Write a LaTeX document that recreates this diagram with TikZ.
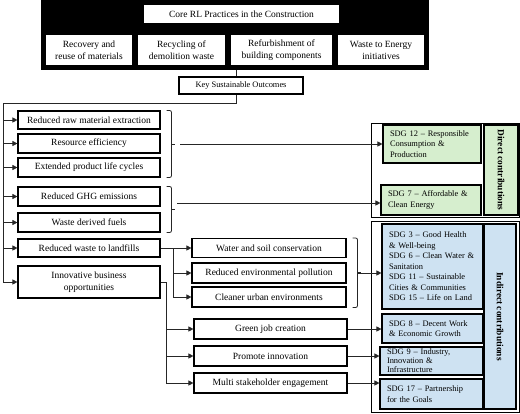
\documentclass[tikz,border=0pt]{standalone}
\usepackage{fontspec}
\setmainfont{Liberation Serif}
\usepackage{tikz}
\usetikzlibrary{arrows.meta,calc}
\definecolor{sdggreen}{HTML}{D6EECE}
\definecolor{sdgblue}{HTML}{CEE2F2}
\tikzset{
    every node/.style={rectangle, draw, line width=1.1pt, inner sep=1pt, align=center, font=\fontsize{9.5}{12}\selectfont}
}
\tikzset{
    sdgbox/.style={align=left, inner xsep=7pt, font=\fontsize{8.4}{10.5}\selectfont},
    sidebox/.style={rotate=-90, font=\fontsize{9.4}{11}\selectfont\bfseries},
    frame/.style={line width=0.9pt, fill=white},
    link/.style={line width=0.7pt, black!85},
    arr/.style={line width=0.7pt, black!85, -{Triangle[length=5pt,width=5pt]}},
    bracket/.style={line width=0.8pt, black!85, rounded corners=2pt}
}

\begin{document}
\begin{tikzpicture}[x=1pt, y=-1pt]
    \useasboundingbox (0,0) rectangle (520,413);

    % core practices
    \node (rlframe) [fill=black, minimum width=386pt, minimum height=69pt] at (235,34.5) {};
    \node (core) [fill=white, minimum width=197pt, minimum height=20pt] at (241.5,14) {Core RL Practices in the Construction};
    \node (p1) [fill=white, minimum width=88pt, minimum height=32pt] at (89,50) {Recovery and\\reuse of materials};
    \node (p2) [fill=white, minimum width=89pt, minimum height=32pt] at (181.5,50) {Recycling of\\demolition waste};
    \node (p3) [fill=white, minimum width=103pt, minimum height=32pt] at (281.5,50) {Refurbishment of\\building components};
    \node (p4) [fill=white, minimum width=88pt, minimum height=32pt] at (381,50) {Waste to Energy\\initiatives};

    \node (key) [minimum width=124pt, minimum height=17pt, font=\fontsize{8.4}{10}\selectfont] at (241,85.5) {Key Sustainable Outcomes};

    % outcomes
    \node (r1) [minimum width=142pt, minimum height=18pt] at (89,120) {Reduced raw material extraction};
    \node (r2) [minimum width=142pt, minimum height=19pt] at (89,143.5) {Resource efficiency};
    \node (r3) [minimum width=142pt, minimum height=19pt] at (89,167.5) {Extended product life cycles};
    \node (r4) [minimum width=142pt, minimum height=19pt] at (89,196.5) {Reduced GHG emissions};
    \node (r5) [minimum width=142pt, minimum height=19pt] at (89,222.5) {Waste derived fuels};
    \node (r6) [minimum width=142pt, minimum height=18pt] at (89,248) {Reduced waste to landfills};
    \node (innov) [minimum width=142pt, minimum height=32pt] at (89,282) {Innovative business\\opportunities};

    \node (m1) [minimum width=154pt, minimum height=19pt] at (269,248) {Water and soil conservation};
    \node (m2) [minimum width=154pt, minimum height=20pt] at (269,273) {Reduced environmental pollution};
    \node (m3) [minimum width=154pt, minimum height=20pt] at (269,297) {Cleaner urban environments};
    \node (g1) [minimum width=153pt, minimum height=20pt] at (270.5,329) {Green job creation};
    \node (g2) [minimum width=153pt, minimum height=20pt] at (270.5,356) {Promote innovation};
    \node (g3) [minimum width=153pt, minimum height=20pt] at (270.5,383) {Multi stakeholder engagement};

    % contributions
    \node (direct) [frame, minimum width=148.5pt, minimum height=94pt] at (445.25,170) {};
    \node (indirect) [frame, minimum width=148.5pt, minimum height=191pt] at (445.25,316.5) {};

    \node (sdg12) [sdgbox, fill=sdggreen, minimum width=98pt, minimum height=38pt, text width=84pt] at (432,144) {SDG 12 -- Responsible\\Consumption \&\\Production};
    \node (sdg7) [sdgbox, fill=sdggreen, minimum width=100pt, minimum height=30pt, text width=86pt] at (431,200) {SDG 7 -- Affordable \&\\Clean Energy};
    \node (dlabel) [sidebox, fill=sdggreen, minimum width=90pt, minimum height=34pt] at (501,170) {Direct contributions};

    \node (sdg3) [sdgbox, fill=sdgblue, minimum width=101pt, minimum height=85pt, text width=87pt] at (432.5,266.5) {SDG 3 -- Good Health\\\& Well-being\\SDG 6 -- Clean Water \&\\Sanitation\\SDG 11 -- Sustainable\\Cities \& Communities\\SDG 15 -- Life on Land};
    \node (sdg8) [sdgbox, fill=sdgblue, minimum width=101pt, minimum height=29pt, text width=87pt] at (432.5,328.5) {SDG 8 -- Decent Work\\\& Economic Growth};
    \node (sdg9) [sdgbox, fill=sdgblue, minimum width=103pt, minimum height=28pt, text width=89pt, inner ysep=0pt, font=\fontsize{8.4}{9}\selectfont] at (431.5,361) {SDG 9 -- Industry,\\Innovation \&\\Infrastructure};
    \node (sdg17) [sdgbox, fill=sdgblue, minimum width=103pt, minimum height=30pt, text width=89pt] at (431.5,394) {SDG 17 -- Partnership\\for the Goals};
    \node (ilabel) [sidebox, fill=sdgblue, minimum width=185pt, minimum height=32pt] at (500,316.5) {Indirect contributions};

    \coordinate (trunk) at (3,103);
    \coordinate (jw) at (173,248);
    \coordinate (ji) at (166,282);
    \coordinate (b1) at (180,144);
    \coordinate (b2) at (177,203);
    \coordinate (b3) at (358,273);

    \draw[link] ([xshift=-5pt]key.north) -- ([xshift=-5pt]key.north |- rlframe.south);
    \draw[link] ([xshift=-5pt]key.south) |- (trunk);
    \draw[arr] (trunk) |- (innov.west);
    \foreach \n in {r1,r2,r3,r4,r5,r6}
        \draw[arr] (trunk |- \n.west) -- (\n.west);

    \draw[arr] (r6.east) -- (m1.west);
    \draw[arr] (jw) |- (m2.west);
    \draw[arr] (jw) |- (m3.west);
    \draw[link] (innov.east) -- (ji);
    \foreach \n in {g1,g2,g3}
        \draw[arr] (ji) |- (\n.west);

    % brackets
    \foreach \t/\b in {r1/r3, r4/r5, m1/m3} {
        \draw[bracket] ([xshift=6pt]\t.north east) -- ++(5,0) |- ([xshift=6pt]\b.south east);
        \draw[bracket] ($(\t.north east)!0.5!(\b.south east)$) ++(11,0) -- ++(3.5,0);
    }
    \draw[arr] (b1) -- (b1 -| sdg12.west);
    \draw[arr] (b2) -- (b2 -| sdg7.west);
    \draw[arr] (b3) -- (b3 -| sdg3.west);
    \draw[arr] (g1.east) -- (g1.east -| sdg8.west);
    \draw[arr] (g2.east) -- (g2.east -| sdg9.west);
    \draw[arr] (g3.east) -- (g3.east -| sdg17.west);
\end{tikzpicture}
\end{document}
